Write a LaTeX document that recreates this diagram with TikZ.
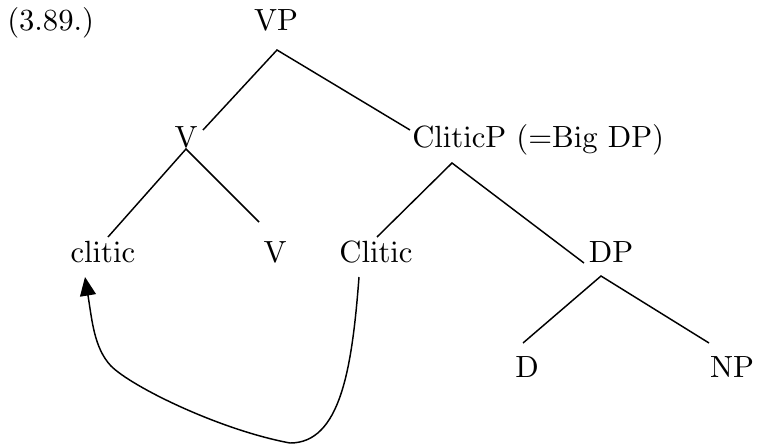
\documentclass[tikz,border=0pt]{standalone}
\usepackage{xcolor}
\usepackage{amsmath, amssymb}
\usepackage{tikz}
\usetikzlibrary{arrows.meta, calc}

\font\treefont=cmr10 at 23pt
\tikzset{
    lbl/.style={inner sep=0pt, anchor=base, font=\treefont},
    branch/.style={line width=1.1pt},
    move/.style={line width=1.1pt, -{Triangle[length=14pt, width=12pt]}}
}

\begin{document}
\begin{tikzpicture}[x=0.75pt, y=-0.75pt]
    \useasboundingbox (0,0) rectangle (759,446);
    \node[lbl, anchor=base west] (ex) at (7,31) {(3.89.)};
    \node[lbl] (vp) at (276,31) {VP};
    \node[lbl] (v) at (186,147) {V};
    \node[lbl, anchor=base west] (clp) at (412,147) {CliticP (=Big DP)};
    \node[lbl] (cl) at (103,262) {clitic};
    \node[lbl] (vv) at (275,262) {V};
    \node[lbl] (Cl) at (376,262) {Clitic};
    \node[lbl] (dp) at (611,262) {DP};
    \node[lbl] (d) at (527,377) {D};
    \node[lbl] (np) at (732,377) {NP};
    \draw[branch] ([shift={(17,-17)}]v.base) -- ([shift={(1,19)}]vp.base) -- ([shift={(-2,-17)}]clp.base west);
    \draw[branch] ([shift={(5,-25)}]cl.base) -- ([shift={(0,2)}]v.base) -- ([shift={(-16,-40)}]vv.base);
    \draw[branch] ([shift={(1,-25)}]Cl.base) -- ([shift={(40,16)}]clp.base west) -- ([shift={(-27,1)}]dp.base);
    \draw[branch] ([shift={(-4,-34)}]d.base) -- ([shift={(-10,14)}]dp.base) -- ([shift={(-23,-34)}]np.base);
    \draw[move] ([shift={(-17,15)}]Cl.base) .. controls (352,370) and (340,443) .. (290,443)
        .. controls (220,430) and (132,387) .. (111,366)
        .. controls (94,348) and (92,320) .. ([shift={(-18,15)}]cl.base);
\end{tikzpicture}
\end{document}
